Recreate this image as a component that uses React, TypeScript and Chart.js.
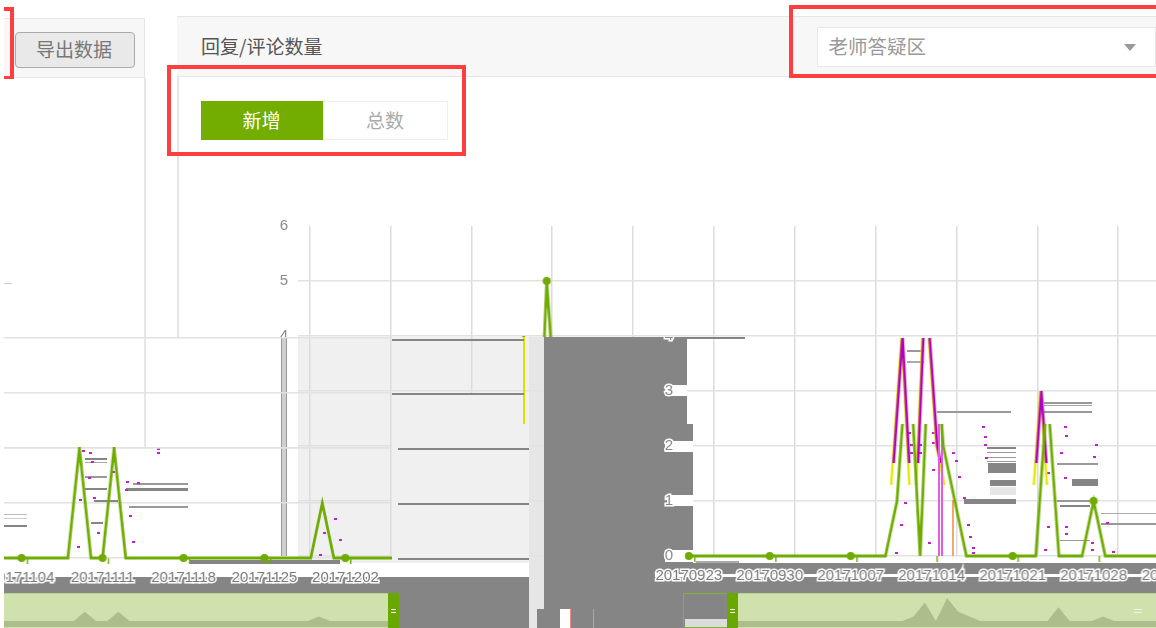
import React, { useEffect, useRef } from "react";
import { Chart, registerables } from "chart.js";

Chart.register(...registerables);

const dates = [
  "20170923","20170924","20170925","20170926","20170927","20170928","20170929","20170930",
  "20171001","20171002","20171003","20171004","20171005","20171006","20171007","20171008","20171009","20171010",
  "20171011","20171012","20171013","20171014","20171015","20171016","20171017","20171018","20171019","20171020",
  "20171021","20171022","20171023","20171024","20171025","20171026","20171027","20171028","20171029","20171030","20171031",
  "20171101","20171102","20171103","20171104","20171105","20171106","20171107","20171108","20171109","20171110",
  "20171111","20171112","20171113","20171114","20171115","20171116","20171117","20171118","20171119","20171120",
  "20171121","20171122","20171123","20171124","20171125","20171126","20171127","20171128","20171129","20171130",
  "20171201","20171202","20171203","20171204","20171205","20171206","20171207",
];
const replies = [
  0,0,0,0,0,0,0,0,
  0,0,0,0,0,0,0,0,0,0,
  1,4,0,5,2,1,0,0,0,0,
  0,0,0,3,0,0,0,1,0,0,0,
  0,0,0,0,0,0,0,0,2,0,
  0,2,0,0,0,0,0,0,0,0,
  0,0,0,0,0,0,0,0,0,1,
  0,0,0,0,0,0,0,
];
const yTicks = [0, 1, 2, 3, 4, 5, 6];
const tabLabels = ["新增", "总数"];
const titleText = "回复/评论数量";
const exportText = "导出数据";
const selectText = "老师答疑区";

const BAND = 11.565;
const PAD_L = 60;
const PAD_R = 10;
const AREA_TOP = 226;
const AXIS_H = 72;
const CW = PAD_L + dates.length * BAND + PAD_R;
const CH = 628;
const GREEN = "#6fab00";
const NONE = "rgba(0,0,0,0)";
const FONT = "'Liberation Sans', Arial, sans-serif";
const CJK = "'Noto Sans CJK SC', sans-serif";

type Opt = {
  line?: string;
  lineWidth?: number;
  yLabels?: (v: number) => boolean;
  xLabels?: boolean;
  hGrid?: boolean;
  vGrid?: boolean;
  tickMarks?: boolean;
  points?: boolean;
  halo?: boolean;
};

function mainConfig(o: Opt): any {
  return {
    type: "line",
    data: {
      labels: dates,
      datasets: [
        {
          data: replies,
          clip: 12,
          borderColor: o.line || NONE,
          borderWidth: o.lineWidth || 2.8,
          tension: 0,
          pointRadius: (c: any) => (o.points && c.dataIndex % 7 === 0 ? 4 : 0),
          pointBackgroundColor: GREEN,
          pointBorderColor: GREEN,
          pointBorderWidth: 0,
        },
      ],
    },
    options: {
      animation: false,
      responsive: false,
      devicePixelRatio: 1,
      layout: { padding: { top: AREA_TOP, right: PAD_R, left: 0, bottom: 0 } },
      plugins: { legend: { display: false }, tooltip: { enabled: false } },
      scales: {
        x: {
          type: "category",
          offset: true,
          afterFit: (s: any) => { s.height = AXIS_H; },
          border: { display: false },
          grid: {
            offset: true,
            drawOnChartArea: !!o.vGrid,
            drawTicks: !!o.tickMarks,
            tickLength: 6,
            lineWidth: 1.5,
            tickWidth: 1.4,
            color: (c: any) => (c.index % 7 === 1 ? "#dcdcdc" : NONE),
            tickColor: (c: any) => (c.index % 7 === 1 ? GREEN : NONE),
          },
          ticks: {
            autoSkip: false,
            maxRotation: 0,
            minRotation: 0,
            padding: o.tickMarks ? 5 : 11,
            color: "#777",
            textStrokeColor: "#fff",
            textStrokeWidth: 3,
            font: { family: FONT, size: 15 },
            callback: (_v: any, i: number) => (o.xLabels && i % 7 === 0 ? dates[i] : ""),
          },
        },
        y: {
          min: 0,
          max: 6,
          afterFit: (s: any) => { s.width = PAD_L; },
          afterBuildTicks: (s: any) => { s.ticks = yTicks.map((value) => ({ value })); },
          border: { display: false },
          grid: {
            drawTicks: false,
            lineWidth: 1.5,
            color: (c: any) => (o.hGrid && c.tick && c.tick.value !== 6 ? "#e2e2e2" : NONE),
          },
          ticks: {
            padding: 10,
            color: "#888",
            textStrokeColor: o.halo ? "#fff" : NONE,
            textStrokeWidth: o.halo ? 3 : 0,
            font: { family: FONT, size: 15 },
            callback: (v: any) => (o.yLabels && o.yLabels(Number(v)) ? String(v) : ""),
          },
        },
      },
    },
  };
}

function miniConfig(): any {
  return {
    type: "line",
    data: {
      labels: dates,
      datasets: [
        {
          data: replies,
          borderWidth: 0,
          pointRadius: 0,
          tension: 0,
          fill: "start",
          backgroundColor: "#adbd8c",
        },
      ],
    },
    options: {
      animation: false,
      responsive: false,
      devicePixelRatio: 1,
      layout: { padding: 0 },
      plugins: { legend: { display: false }, tooltip: { enabled: false } },
      scales: {
        x: { type: "category", display: false, offset: false },
        y: { display: false, min: -1.3, max: 6.09 },
      },
    },
  };
}

function Layer(p: {
  config: () => any;
  cx: number;
  cy?: number;
  w?: number;
  h?: number;
  clip: [number, number, number, number];
}) {
  const ref = useRef<HTMLCanvasElement>(null);
  useEffect(() => {
    const chart = new Chart(ref.current as HTMLCanvasElement, p.config());
    return () => chart.destroy();
  }, []);
  const [x, y, w, h] = p.clip;
  return (
    <div style={{ position: "absolute", left: x, top: y, width: w, height: h, overflow: "hidden" }}>
      <canvas
        ref={ref}
        width={p.w || CW}
        height={p.h || CH}
        style={{ position: "absolute", left: p.cx - x, top: (p.cy || 0) - y, width: p.w || CW, height: p.h || CH }}
      />
    </div>
  );
}

function Box(p: { x: number; y: number; w: number; h: number; c: string; style?: any; children?: any }) {
  return (
    <div
      style={{
        position: "absolute",
        left: p.x,
        top: p.y,
        width: p.w,
        height: p.h,
        background: p.c,
        boxSizing: "border-box",
        ...p.style,
      }}
    >
      {p.children}
    </div>
  );
}

const DARK = "#858585";
const streaks: [number, number, number, number, string][] = [
  [392, 339, 132, 2, DARK], [392, 393, 132, 2, DARK], [398, 448, 131, 1.5, DARK], [398, 503, 131, 1.5, DARK], [398, 558, 131, 1.5, DARK],
  [190, 560, 150, 4, DARK],
  [4, 514, 23, 1, "#bbb"], [4, 518, 23, 1, "#ccc"], [4, 525, 23, 2, DARK],
  [85, 458, 22, 1.5, DARK], [85, 462, 22, 1, "#aaa"], [85, 476, 22, 1.5, "#999"], [85, 488, 22, 1.5, DARK], [94, 500, 24, 3, DARK], [91, 522, 12, 1.5, DARK],
  [133, 483, 55, 1.5, "#999"], [126, 488, 62, 3, DARK], [129, 506, 59, 1.5, "#999"],
  [696, 561, 43, 2, "#aaa"],
  [907, 350, 17, 2, "#999"], [907, 361, 17, 1.5, "#aaa"],
  [937, 411, 74, 1.5, "#999"],
  [1044, 402, 48, 1.5, "#999"], [1044, 405, 48, 1, "#aaa"], [1044, 411, 48, 1.5, "#999"],
  [987, 447, 29, 1.5, DARK], [987, 452, 29, 1, "#999"], [987, 457, 29, 1, "#999"], [987, 461, 29, 1, "#999"],
  [988, 463, 28, 10, DARK], [990, 480, 26, 6, DARK], [990, 487, 26, 8, "#e6e6e6"], [964, 499, 52, 5, DARK],
  [1072, 479, 26, 7, DARK], [1057, 463, 41, 1.5, "#999"], [1057, 500, 33, 1.5, "#999"], [1060, 505, 30, 2, DARK],
  [1101, 513, 55, 1, "#aaa"], [1101, 523, 55, 1.5, "#999"], [1060, 540, 30, 1, "#999"],
];
const specks: [number, number][] = [
  [983, 427], [985, 437], [985, 445], [986, 458], [953, 453], [956, 461], [959, 477], [964, 498], [968, 525], [970, 537], [973, 548], [973, 553],
  [909, 433], [911, 445], [911, 453], [920, 445], [920, 453], [933, 433], [933, 443], [933, 470], [905, 503], [901, 525], [929, 543], [896, 553],
  [1065, 427], [1066, 436], [1061, 453], [1096, 445], [1094, 457], [1065, 478], [1048, 473], [1048, 527], [1066, 527], [1066, 534], [1107, 523], [1092, 543], [1092, 550], [1045, 550], [1113, 552],
  [83, 451], [90, 453], [92, 462], [89, 478], [80, 500], [94, 498], [98, 533], [78, 547], [113, 472], [127, 482], [138, 483], [126, 490], [130, 516], [133, 542], [158, 449], [158, 453], [335, 519], [324, 533], [340, 540], [320, 555],
];

export default function App() {
  const border = "#e6e6e6";
  return (
    <div style={{ position: "relative", width: 1156, height: 628, overflow: "hidden", background: "#fff", filter: "blur(0.45px)" }}>
      <style>{`html,body{margin:0;padding:0;overflow:hidden;background:#fff}`}</style>

      {/* upper page chrome */}
      <Box x={4} y={18} w={141} h={60} c="#f7f7f7" style={{ borderTop: `1.5px solid ${border}`, borderBottom: `1.5px solid ${border}`, borderRight: `1.5px solid ${border}` }} />
      <Box x={144} y={78} w={1.5} h={369} c={border} />
      <Box x={177} y={16} w={979} h={61} c="#f7f7f7" style={{ borderTop: `1.5px solid ${border}`, borderBottom: `1.5px solid ${border}` }} />
      <Box x={177} y={77} w={1.5} h={260} c={border} />
      <Box x={4} y={283} w={8} h={1} c="#ccc" />

      <Box x={15} y={32} w={120} h={36} c="#e9e9e9" style={{ border: "1.5px solid #aaa", borderRadius: 4, fontFamily: CJK, fontSize: 19, color: "#777", display: "flex", alignItems: "center", justifyContent: "center", paddingBottom: 3, paddingRight: 2 }}>
        {exportText}
      </Box>
      <div style={{ position: "absolute", left: 201, top: 32, fontFamily: CJK, fontSize: 19, lineHeight: "28px", color: "#555" }}>{titleText}</div>

      <Box x={200.5} y={100.5} w={122} h={39} c="#72ad00" style={{ fontFamily: CJK, fontSize: 19, color: "#fff", display: "flex", alignItems: "center", justifyContent: "center", paddingBottom: 2 }}>
        {tabLabels[0]}
      </Box>
      <Box x={322.5} y={100.5} w={125} h={39} c="#fff" style={{ border: "1.5px solid #eee", fontFamily: CJK, fontSize: 19, color: "#aaa", display: "flex", alignItems: "center", justifyContent: "center", paddingBottom: 2 }}>
        {tabLabels[1]}
      </Box>

      <Box x={816.5} y={27} w={339} h={40} c="#fff" style={{ border: "1.5px solid #e8e8e8", fontFamily: CJK, fontSize: 19.5, color: "#999", display: "flex", alignItems: "center", paddingLeft: 11, paddingBottom: 3 }}>
        {selectText}
      </Box>
      <div style={{ position: "absolute", left: 1124, top: 44, width: 0, height: 0, borderLeft: "6px solid transparent", borderRight: "6px solid transparent", borderTop: "7px solid #999" }} />

      {/* red call-out frames */}
      <Box x={166.5} y={65} w={299} h={91} c="transparent" style={{ border: "4px solid #ff3f3f" }} />
      <Box x={789} y={5} w={380} h={73} c="transparent" style={{ border: "4px solid #ff3f3f" }} />
      <Box x={4} y={7} w={9} h={3.5} c="#ff3f3f" />
      <Box x={4} y={75.5} w={9} h={3.5} c="#ff3f3f" />
      <Box x={10} y={7} w={3.5} h={72} c="#ff3f3f" />

      {/* lower displaced bands */}
      <Box x={298} y={337} w={231} h={226} c="#f0f0f0" />
      <Box x={529} y={337} w={15} h={291} c="#e6e6e6" />
      <Box x={693} y={337} w={463} h={226} c="#fff" />

      {/* grid, upper spike and axis: full-height layer */}
      <Layer config={() => mainConfig({ hGrid: true, vGrid: true })} cx={297.5 - PAD_L} clip={[298, 226, 858, 338]} />

      <Box x={392} y={394} w={137} h={169} c="#f0f0f0" />
      <Box x={281} y={337} w={6} h={219} c="#cfcfcf" style={{ borderLeft: "1.5px solid #999", borderRight: "1.5px solid #999" }} />
      <Box x={523} y={337} w={2} h={87} c="#e0e000" />

      {/* grey displaced blocks */}
      <Box x={544} y={337} w={143} h={87} c={DARK} />
      <Box x={544} y={337} w={201} h={2} c={DARK} />
      <Box x={544} y={424} w={149} h={169} c={DARK} />
      <Box x={544} y={593} w={139} h={35} c={DARK} />
      <Box x={537} y={609} w={23} h={19} c={DARK} />
      <Box x={560} y={609} w={10} h={19} c="#fff" />
      <Box x={569.5} y={609} w={1} h={19} c="#f28a8a" />
      <Box x={592.5} y={609} w={1} h={19} c="#f28a8a" />
      <Box x={4} y={577} w={525} h={16} c={DARK} />
      <Box x={399} y={593} w={130} h={35} c={DARK} />
      <Box x={693} y={563} w={463} h={30} c={DARK} />
      <Box x={655} y={574} w={501} h={3} c="#fff" />
      <Box x={4} y={573} w={388} h={4} c="#fff" />

      {/* white patches behind the displaced y labels */}
      <Box x={665} y={385} w={22} h={11} c="#fff" />
      <Box x={665} y={441} w={28} h={11} c="#fff" />
      <Box x={667} y={495} w={26} h={11} c="#fff" />
      <Box x={665} y={550} w={28} h={12} c="#fff" />

      {/* noise streaks and specks */}
      {streaks.map(([x, y, w, h, c], i) => (
        <Box key={i} x={x} y={y} w={w} h={h} c={c} />
      ))}
      {specks.map(([x, y], i) => (
        <Box key={"s" + i} x={x - 1.5} y={y - 1} w={3} h={2} c="#c020d0" />
      ))}

      {/* upper series */}
      <Layer
        config={() => mainConfig({ line: GREEN, points: true, yLabels: (v) => v >= 4 })}
        cx={298.2 - PAD_L}
        clip={[270, 200, 886, 137]}
      />

      {/* left displaced section */}
      <Layer config={() => mainConfig({ hGrid: true })} cx={-469.8 - PAD_L} cy={2} clip={[4, 337, 388, 112]} />
      <Layer
        config={() => mainConfig({ line: GREEN, points: true, hGrid: true, xLabels: true, tickMarks: true })}
        cx={-469.8 - PAD_L}
        cy={1.5}
        clip={[4, 447, 388, 146]}
      />

      {/* right displaced section */}
      <Layer config={() => mainConfig({ yLabels: (v) => v >= 3 && v <= 4, halo: true })} cx={683.2 - PAD_L} clip={[650, 337, 43, 87]} />
      <Layer config={() => mainConfig({ line: "#e6e600", lineWidth: 2.4 })} cx={675.7 - PAD_L} clip={[880, 338, 180, 147]} />
      <Layer config={() => mainConfig({ line: "#b000c0", lineWidth: 2.6 })} cx={677.2 - PAD_L} clip={[880, 338, 180, 125]} />
      <Box x={938} y={424} w={1.5} h={132} c="#e35ce3" />
      <Box x={941} y={424} w={1.5} h={132} c="#e35ce3" />
      <Box x={952} y={500} w={1.5} h={56} c="#f5a66a" />
      <Layer
        config={() =>
          mainConfig({ line: GREEN, points: true, xLabels: true, tickMarks: true, yLabels: (v) => v <= 2, halo: true })
        }
        cx={683.2 - PAD_L}
        clip={[650, 424, 506, 169]}
      />

      {/* data-zoom strip */}
      <Box x={4} y={593} w={384} h={35} c="#cfe1ad" style={{ borderTop: "1.5px solid #b9d38b" }} />
      <Layer config={miniConfig} cx={713 - 1152} cy={593} w={836} h={34} clip={[4, 594, 384, 33]} />
      <Box x={388} y={593} w={11} h={35} c="#69a800" />
      <Box x={391} y={609} w={5} h={1} c="#fff" />
      <Box x={391} y={612} w={5} h={1} c="#fff" />

      <Box x={683} y={593} w={45} h={35} c={DARK} style={{ border: "1.5px solid #7fb52a" }} />
      <Box x={684.5} y={619} w={43} h={7.5} c="#dcdcdc" />
      <Box x={738} y={593} w={418} h={35} c="#cfe1ad" style={{ borderTop: "1.5px solid #b9d38b" }} />
      <Layer config={miniConfig} cx={713} cy={593} w={836} h={34} clip={[738, 594, 418, 33]} />
      <Box x={727} y={593} w={11} h={35} c="#69a800" />
      <Box x={730} y={609} w={5} h={1} c="#fff" />
      <Box x={730} y={612} w={5} h={1} c="#fff" />
      <Box x={1134} y={609} w={8} h={1} c="#eef5e0" />
      <Box x={1134} y={612} w={8} h={1} c="#eef5e0" />
    </div>
  );
}
